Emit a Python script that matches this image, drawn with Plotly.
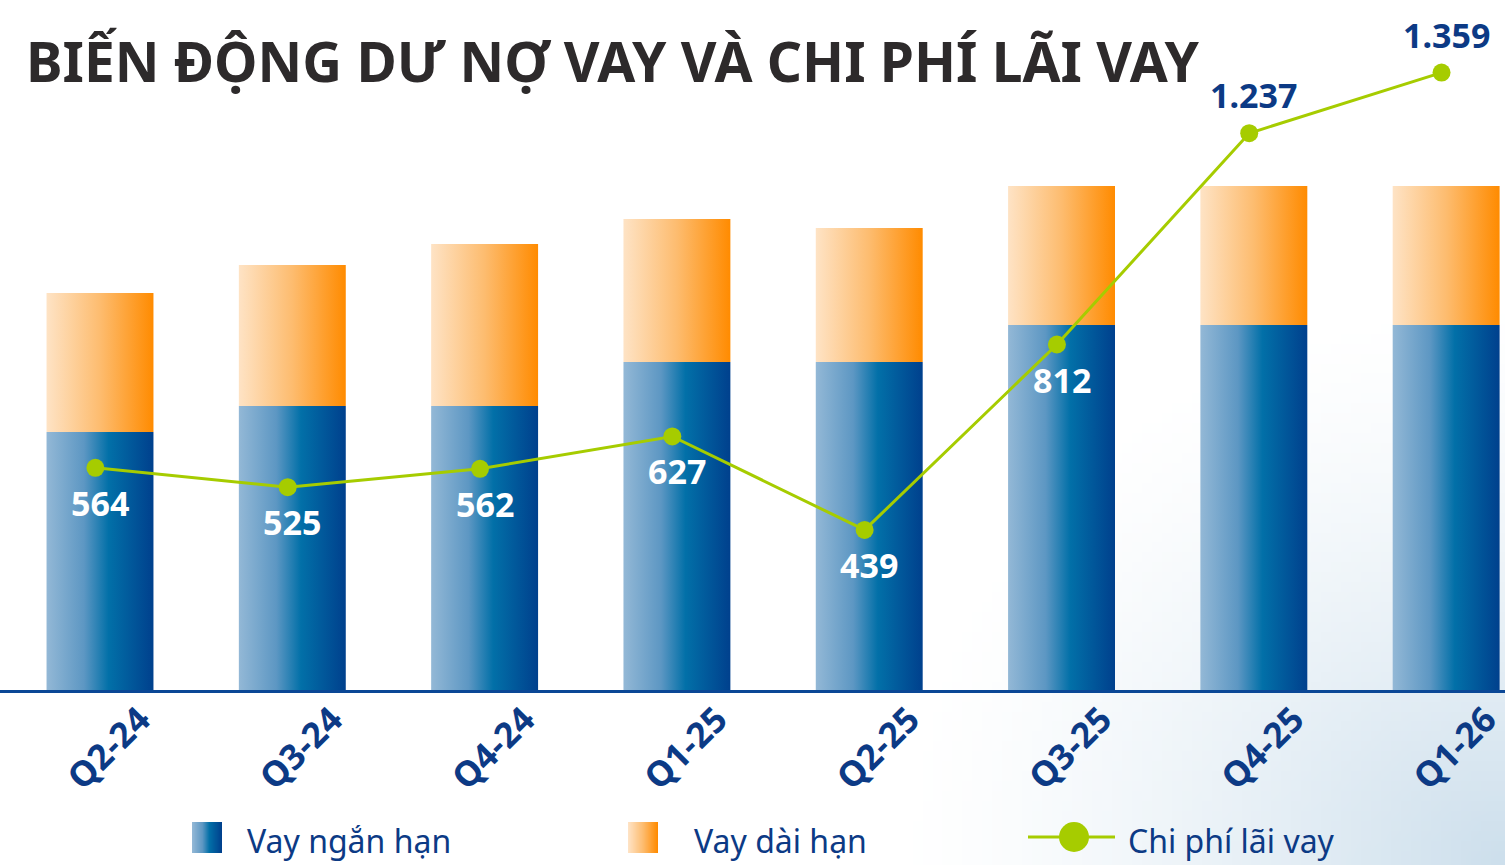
import base64, struct, zlib
import plotly.graph_objects as go

# ---------------- data ----------------
categories = ["Q2-24", "Q3-24", "Q4-24", "Q1-25", "Q2-25", "Q3-25", "Q4-25", "Q1-26"]
short_term = [2580, 2840, 2840, 3280, 3280, 3650, 3650, 3650]   # Vay ngắn hạn (estimated, relative)
long_term = [1390, 1410, 1620, 1430, 1340, 1390, 1390, 1390]    # Vay dài hạn (estimated, relative)
interest_cost = [564, 525, 562, 627, 439, 812, 1237, 1359]      # Chi phí lãi vay
label_inside = [True, True, True, True, True, True, False, False]

NAVY = "#0c3a85"
GREEN = "#a6cc00"
BLUE_SCALE = [[0, "#93b8d6"], [0.35, "#5d97c3"], [0.58, "#0270a8"], [1, "#00408d"]]
ORANGE_SCALE = [[0, "#fee3c5"], [0.5, "#fdbc6f"], [1, "#ff8b00"]]


def fmt(v):
    return f"{v:,}".replace(",", ".")


def hexrgb(h):
    h = h.lstrip("#")
    return tuple(int(h[i:i + 2], 16) for i in (0, 2, 4))


def scale_color(scale, t):
    for (t0, c0), (t1, c1) in zip(scale[:-1], scale[1:]):
        if t <= t1:
            f = 0 if t1 == t0 else (t - t0) / (t1 - t0)
            a, b = hexrgb(c0), hexrgb(c1)
            return tuple(int(round(a[k] + (b[k] - a[k]) * f)) for k in range(3))
    return hexrgb(scale[-1][1])


def png_uri(w, h, fn):
    raw = b""
    for y in range(h):
        raw += b"\x00" + b"".join(bytes(fn(x, y)) for x in range(w))
    def chunk(tag, data):
        c = struct.pack(">I", len(data)) + tag + data
        return c + struct.pack(">I", zlib.crc32(tag + data) & 0xffffffff)
    png = b"\x89PNG\r\n\x1a\n" + chunk(b"IHDR", struct.pack(">IIBBBBB", w, h, 8, 2, 0, 0, 0)) \
        + chunk(b"IDAT", zlib.compress(raw)) + chunk(b"IEND", b"")
    return "data:image/png;base64," + base64.b64encode(png).decode()


# background: faint blue glow toward bottom-right corner
BW, BH = 151, 87
def bg_px(x, y):
    dx, dy = (BW - 1 - x) / BW, (BH - 1 - y) / BH * 0.62
    d = (dx * dx + dy * dy) ** 0.5
    t = max(0.0, 1 - d / 0.40) ** 1.4
    base, tgt = (255, 255, 255), (205, 223, 236)
    return tuple(int(round(base[k] + (tgt[k] - base[k]) * t)) for k in range(3))

bg_uri = png_uri(BW, BH, bg_px)
blue_uri = png_uri(40, 4, lambda x, y: scale_color(BLUE_SCALE, x / 39))
orange_uri = png_uri(40, 4, lambda x, y: scale_color(ORANGE_SCALE, x / 39))

W = 0.556
fig = go.Figure()

for i, (s, l) in enumerate(zip(short_term, long_term)):
    x0, x1 = i - W / 2, i + W / 2
    fig.add_trace(go.Scatter(
        x=[x0, x1, x1, x0, x0], y=[0, 0, s, s, 0], mode="lines", fill="toself",
        line=dict(width=0), fillgradient=dict(type="horizontal", colorscale=BLUE_SCALE),
        showlegend=False, hoverinfo="skip"))
    fig.add_trace(go.Scatter(
        x=[x0, x1, x1, x0, x0], y=[s, s, s + l, s + l, s], mode="lines", fill="toself",
        line=dict(width=0), fillgradient=dict(type="horizontal", colorscale=ORANGE_SCALE),
        showlegend=False, hoverinfo="skip"))

line_x = [i - 0.024 for i in range(len(categories))]
fig.add_trace(go.Scatter(
    x=line_x, y=interest_cost, yaxis="y2", mode="lines+markers",
    line=dict(color=GREEN, width=3), marker=dict(size=18, color=GREEN),
    showlegend=False, hoverinfo="skip"))


def py(px):
    # paper y from pixel row (plot area spans px 0..690)
    return (690 - px) / 690


annotations = []
for i, v in enumerate(interest_cost):
    inside = label_inside[i]
    annotations.append(dict(
        x=i, y=v, xref="x", yref="y2", text=f"<b>{fmt(v)}</b>", showarrow=False,
        yshift=-35 if inside else 38,
        font=dict(family="Noto Sans", size=34, color="white" if inside else NAVY)))

annotations.append(dict(
    x=24 / 1505, y=py(60), xref="paper", yref="paper",
    text="<b>BIẾN ĐỘNG DƯ NỢ VAY VÀ CHI PHÍ LÃI VAY</b>",
    showarrow=False, xanchor="left", yanchor="middle",
    font=dict(family="Noto Sans", size=55, color="#2d2a2b")))

annotations += [
    dict(x=245 / 1505, y=py(840), xref="paper", yref="paper", text="Vay ngắn hạn", showarrow=False,
         xanchor="left", yanchor="middle", font=dict(family="Noto Sans", size=32, color=NAVY)),
    dict(x=692 / 1505, y=py(840), xref="paper", yref="paper", text="Vay dài hạn", showarrow=False,
         xanchor="left", yanchor="middle", font=dict(family="Noto Sans", size=32, color=NAVY)),
    dict(x=1126 / 1505, y=py(840), xref="paper", yref="paper", text="Chi phí lãi vay", showarrow=False,
         xanchor="left", yanchor="middle", font=dict(family="Noto Sans", size=32, color=NAVY)),
]

images = [
    dict(source=bg_uri, xref="paper", yref="paper", x=0, y=1, sizex=1, sizey=865 / 690,
         sizing="stretch", xanchor="left", yanchor="top", layer="below"),
    dict(source=blue_uri, xref="paper", yref="paper", x=192 / 1505, y=py(822), sizex=30 / 1505,
         sizey=31 / 690, sizing="stretch", xanchor="left", yanchor="top", layer="above"),
    dict(source=orange_uri, xref="paper", yref="paper", x=628 / 1505, y=py(822), sizex=30 / 1505,
         sizey=31 / 690, sizing="stretch", xanchor="left", yanchor="top", layer="above"),
]

shapes = [
    dict(type="line", xref="paper", yref="paper", x0=1028 / 1505, x1=1115 / 1505, y0=py(837), y1=py(837),
         line=dict(color=GREEN, width=3)),
    dict(type="circle", xref="paper", yref="paper", x0=1059 / 1505, x1=1089 / 1505, y0=py(822), y1=py(852),
         fillcolor=GREEN, line=dict(width=0)),
]

fig.update_layout(
    width=1505, height=865,
    margin=dict(l=0, r=0, t=0, b=175),
    paper_bgcolor="white", plot_bgcolor="rgba(0,0,0,0)",
    xaxis=dict(range=[-0.52, 7.306], tickvals=list(range(len(categories))), ticktext=categories,
               tickangle=-45, showgrid=False, zeroline=False, showline=True, linecolor="#0a4796",
               linewidth=3, ticks="", ticklabelshift=40, ticklabelstandoff=-8,
               ticklabeloverflow="allow",
               tickfont=dict(family="Noto Sans", size=35, color=NAVY, weight="bold")),
    yaxis=dict(range=[0, 6900], visible=False, fixedrange=True),
    yaxis2=dict(range=[117, 1505], overlaying="y", visible=False),
    annotations=annotations, images=images, shapes=shapes, showlegend=False,
)

fig.write_html("out.html", config={"displayModeBar": False},
               post_script="document.body.style.margin='0';document.body.style.overflow='hidden';")
